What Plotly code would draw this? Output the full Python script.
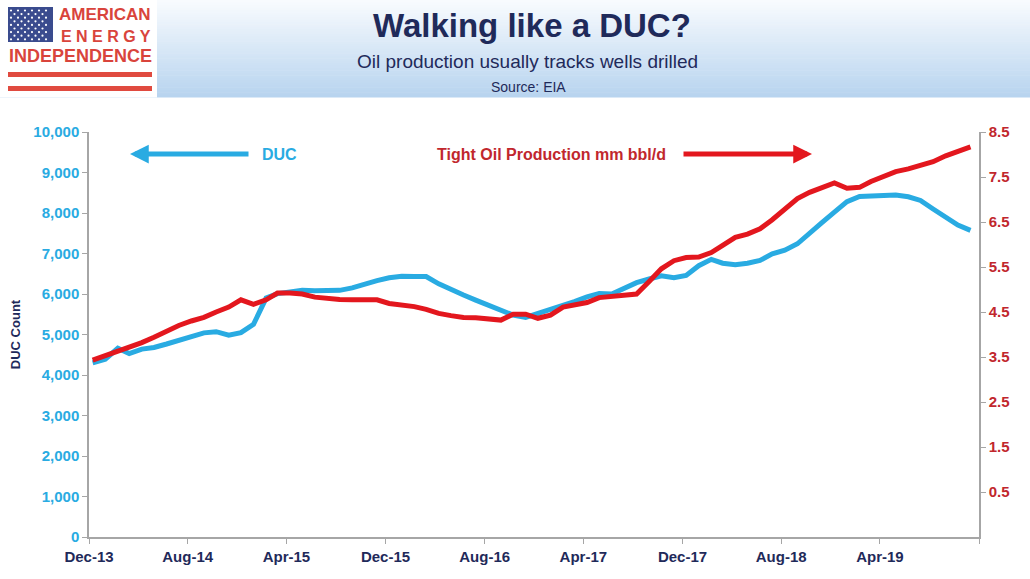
import pandas as pd
import plotly.graph_objects as go

# monthly data, Dec-13 .. Nov-19
months = pd.date_range("2013-12-01", periods=72, freq="MS")

duc_count = [4300, 4390, 4660, 4530, 4640, 4680, 4765, 4845, 4940, 5040,
             5070, 4985, 5045, 5250, 5900, 6010, 6050, 6090, 6080, 6085,
             6090, 6150, 6250, 6330, 6400, 6440, 6435, 6430, 6250, 6100,
             5975, 5850, 5720, 5590, 5480, 5420, 5510, 5620, 5710, 5810,
             5930, 6010, 6000, 6150, 6280, 6370, 6450, 6400, 6460, 6700,
             6855, 6760, 6720, 6760, 6830, 6990, 7080, 7240, 7520, 7770,
             8020, 8280, 8410, 8430, 8445, 8445, 8400, 8310, 8100, 7880,
             7700, 7570]

tight_oil = [3.43, 3.53, 3.62, 3.71, 3.82, 3.94, 4.08, 4.20, 4.30, 4.38,
             4.50, 4.61, 4.77, 4.67, 4.77, 4.92, 4.92, 4.90, 4.83, 4.80,
             4.78, 4.77, 4.77, 4.77, 4.69, 4.66, 4.62, 4.56, 4.47, 4.42,
             4.38, 4.37, 4.35, 4.32, 4.45, 4.45, 4.36, 4.43, 4.61, 4.66,
             4.71, 4.82, 4.84, 4.88, 4.90, 5.18, 5.46, 5.64, 5.71, 5.72,
             5.82, 5.98, 6.16, 6.23, 6.35, 6.55, 6.80, 7.02, 7.16, 7.27,
             7.37, 7.25, 7.27, 7.40, 7.52, 7.62, 7.68, 7.75, 7.84, 7.97,
             8.08, 8.17]

tick_dates = pd.date_range("2013-12-01", "2019-12-01", freq="8MS")
tick_labels = [d.strftime("%b-%y") for d in tick_dates[:-1]] + [""]
right_ticks = [0.5, 1.5, 2.5, 3.5, 4.5, 5.5, 6.5, 7.5, 8.5]

BLUE = "#29abe2"
RED = "#e3171e"
DARKRED = "#c1272d"
NAVY = "#1f2a5a"
GREY = "#a6a6a6"
LOGO_RED = "#d9443c"
FONT = "Liberation Sans"

W, H = 1030, 579
ML, MR, MT, MB = 89, 51, 132, 42

def px(x):
    return (x - ML) / (W - ML - MR)

def py(y):
    return (H - MB - y) / (H - MT - MB)

# excel draws the points a little right of the month tick
x_pos = months + pd.Timedelta(days=9)

fig = go.Figure()
fig.add_trace(go.Scatter(x=x_pos, y=duc_count, name="DUC", mode="lines",
                         line=dict(color=BLUE, width=5), yaxis="y"))
fig.add_trace(go.Scatter(x=x_pos, y=tight_oil, name="Tight Oil Production mm bbl/d",
                         mode="lines", line=dict(color=RED, width=5), yaxis="y2"))

shapes = []
# header gradient band
n = 40
c0, c1 = (248, 251, 254), (184, 212, 239)
for k in range(n):
    t = k / (n - 1)
    col = "rgb(%d,%d,%d)" % tuple(round(a + (b - a) * t) for a, b in zip(c0, c1))
    y0 = 97 * k / n
    y1 = 97 * (k + 1) / n + 0.5
    shapes.append(dict(type="rect", xref="paper", yref="paper", layer="below",
                       x0=px(0), x1=px(W), y0=py(y1), y1=py(y0),
                       line_width=0, fillcolor=col))
# logo box
shapes.append(dict(type="rect", xref="paper", yref="paper", x0=px(0), x1=px(157),
                   y0=py(97.5), y1=py(0), line_width=0, fillcolor="white", layer="below"))
# flag
shapes.append(dict(type="rect", xref="paper", yref="paper", x0=px(8), x1=px(53),
                   y0=py(42), y1=py(7), line_width=0, fillcolor="#3a4b8e"))
for r in range(9):
    cols = 6 if r % 2 == 0 else 5
    off = 11 if r % 2 == 0 else 14.5
    for c in range(cols):
        cx, cy = off + c * 7, 10.5 + r * 3.6
        shapes.append(dict(type="circle", xref="paper", yref="paper",
                           x0=px(cx - 1.1), x1=px(cx + 1.1), y0=py(cy + 1.1), y1=py(cy - 1.1),
                           line_width=0, fillcolor="white"))
for y0, y1 in [(72, 77), (86, 91)]:
    shapes.append(dict(type="rect", xref="paper", yref="paper", x0=px(8), x1=px(152),
                       y0=py(y1), y1=py(y0), line_width=0, fillcolor="#e04a3f"))

annotations = [
    dict(text="AMERICAN", x=px(153), y=py(15), xanchor="right",
         font=dict(family=FONT, size=17, color=LOGO_RED, weight="bold")),
    dict(text="E N E R G Y", x=px(153), y=py(36), xanchor="right",
         font=dict(family=FONT, size=16, color=LOGO_RED, weight="bold")),
    dict(text="INDEPENDENCE", x=px(80), y=py(56),
         font=dict(family=FONT, size=18, color=LOGO_RED, weight="bold")),
    dict(text="Walking like a DUC?", x=px(532), y=py(25),
         font=dict(family=FONT, size=33, color=NAVY, weight="bold")),
    dict(text="Oil production usually tracks wells drilled", x=px(527), y=py(62),
         font=dict(family=FONT, size=19, color=NAVY)),
    dict(text="Source: EIA", x=px(528), y=py(87),
         font=dict(family=FONT, size=14, color=NAVY)),
    # arrows and series labels
    dict(text="", x=px(130), y=py(154), ax=120, ay=0, showarrow=True,
         arrowhead=2, arrowsize=0.75, arrowwidth=5, arrowcolor=BLUE),
    dict(text="DUC", x=px(279), y=py(154),
         font=dict(family=FONT, size=16, color=BLUE, weight="bold")),
    dict(text="Tight Oil Production mm bbl/d", x=px(551), y=py(154),
         font=dict(family=FONT, size=16, color=DARKRED, weight="bold")),
    dict(text="", x=px(812), y=py(154), ax=-130, ay=0, showarrow=True,
         arrowhead=2, arrowsize=0.75, arrowwidth=5, arrowcolor=RED),
]
for a in annotations:
    a.setdefault("xref", "paper")
    a.setdefault("yref", "paper")
    a.setdefault("xanchor", "center")
    a.setdefault("yanchor", "middle")
    a.setdefault("showarrow", False)

fig.update_layout(
    width=W, height=H,
    margin=dict(l=ML, r=MR, t=MT, b=MB),
    paper_bgcolor="white", plot_bgcolor="white",
    showlegend=False,
    hovermode=False,
    shapes=shapes,
    annotations=annotations,
    xaxis=dict(type="date", range=["2013-12-01", "2019-12-01"],
               tickvals=tick_dates, ticktext=tick_labels,
               ticks="outside", ticklen=5, tickcolor=GREY,
               showline=True, linecolor=GREY, linewidth=1.5,
               showgrid=False, zeroline=False,
               tickfont=dict(family=FONT, size=15, color=NAVY, weight="bold")),
    yaxis=dict(range=[0, 10000], dtick=1000, tickformat=",d",
               ticks="outside", ticklen=5, tickcolor=GREY,
               showline=True, linecolor=GREY, linewidth=1.5,
               showgrid=False, zeroline=False,
               tickfont=dict(family=FONT, size=15, color=BLUE, weight="bold"),
               title=dict(text="DUC Count", standoff=10,
                          font=dict(family=FONT, size=13, color=NAVY, weight="bold"))),
    yaxis2=dict(range=[-0.5, 8.5], tickvals=right_ticks, tickformat=".1f",
                overlaying="y", side="right",
                ticks="outside", ticklen=5, tickcolor=GREY,
                showline=True, linecolor=GREY, linewidth=1.5,
                showgrid=False, zeroline=False,
                tickfont=dict(family=FONT, size=15, color=DARKRED, weight="bold")),
)

# drop the default 8px page margin so the figure fills the window
fig.write_html("out.html", config={"displayModeBar": False},
               post_script="document.body.style.margin='0';")
